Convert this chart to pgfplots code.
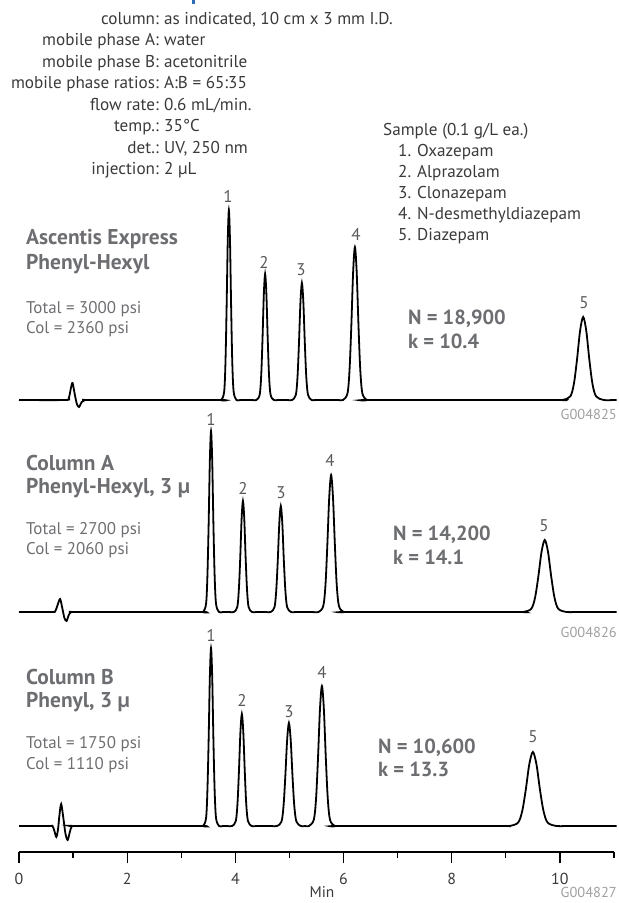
\documentclass[border=0pt]{standalone}
\usepackage{pgfplots}
\usepackage{pgfplotstable}
\pgfplotsset{compat=1.18}
\usepackage{fontspec}
\setmainfont{PT Sans}

\definecolor{txt}{HTML}{3A3A3A}
\definecolor{lab}{HTML}{6D6E71}
\definecolor{gcode}{HTML}{A0A0A0}
\definecolor{pk}{HTML}{58595B}
\definecolor{ttl}{HTML}{2E6DB4}

% chromatograms: t in min, s = signal above baseline
\pgfplotstableread{
t s
0 0
0.85 0
0.92 2
0.96 12
0.99 17
1.03 6
1.07 -4
1.11 -7
1.16 -2
1.22 0
1.35 0
3.67 0
3.74 0
3.793 8.4
3.817 37.6
3.838 92.5
3.859 158.7
3.88 190
3.901 158.7
3.922 92.5
3.943 37.6
3.968 8.4
4.02 0
4.09 0
4.31 0
4.39 0
4.45 5.5
4.478 24.9
4.502 61.4
4.526 105.2
4.55 126
4.574 105.2
4.598 61.4
4.622 24.9
4.65 5.5
4.71 0
4.79 0
4.96 0
5.05 0
5.118 5.1
5.149 23.2
5.176 57.0
5.203 97.7
5.23 117
5.257 97.7
5.284 57.0
5.311 23.2
5.343 5.1
5.41 0
5.50 0
5.88 0
5.99 0
6.073 6.7
6.111 30.3
6.144 74.5
6.177 127.8
6.21 153
6.243 127.8
6.276 74.5
6.309 30.3
6.348 6.7
6.43 0
6.54 0
9.86 0
10.05 0
10.193 3.7
10.259 16.4
10.316 40.4
10.373 69.3
10.43 83
10.487 69.3
10.544 40.4
10.601 16.4
10.668 3.7
10.81 0
11.0 0
11.05 0
}\traceTop

\pgfplotstableread{
t s
0 0
0.60 0
0.67 1
0.72 8
0.76 13
0.80 4
0.84 -6
0.88 -9
0.92 -3
0.97 0
1.10 0
3.328 0
3.402 0
3.458 8.0
3.483 35.8
3.506 88.1
3.528 151.1
3.55 181
3.572 151.1
3.594 88.1
3.617 35.8
3.643 8.0
3.698 0
3.772 0
3.888 0
3.972 0
4.035 4.9
4.064 22.0
4.090 54.1
4.115 92.7
4.14 111
4.165 92.7
4.190 54.1
4.216 22.0
4.245 4.9
4.308 0
4.392 0
4.558 0
4.652 0
4.723 4.7
4.755 21.0
4.784 51.6
4.812 88.5
4.84 106
4.868 88.5
4.896 51.6
4.925 21.0
4.958 4.7
5.028 0
5.122 0
5.422 0
5.538 0
5.625 6.0
5.666 27.1
5.700 66.7
5.735 114.4
5.77 137
5.805 114.4
5.840 66.7
5.874 27.1
5.915 6.0
6.002 0
6.118 0
9.12 0
9.32 0
9.47 3.2
9.54 14.3
9.60 35.1
9.66 60.1
9.72 72
9.78 60.1
9.84 35.1
9.90 14.3
9.97 3.2
10.12 0
10.32 0
11.05 0
}\traceMid

\pgfplotstableread{
t s
0 0
0.55 0
0.62 0
0.66 -6
0.69 -11
0.72 -4
0.75 12
0.78 22
0.82 8
0.86 -8
0.90 -14
0.94 -6
0.98 0
1.08 0
3.328 0
3.402 0
3.458 7.8
3.483 35.2
3.506 86.7
3.528 148.6
3.55 178
3.572 148.6
3.594 86.7
3.617 35.2
3.643 7.8
3.698 0
3.772 0
3.85 0
3.94 0
4.008 4.9
4.039 22.2
4.066 54.5
4.093 93.5
4.12 112
4.147 93.5
4.174 54.5
4.201 22.2
4.233 4.9
4.30 0
4.39 0
4.66 0
4.77 0
4.853 4.5
4.891 20.4
4.924 50.2
4.957 86.0
4.99 103
5.023 86.0
5.056 50.2
5.089 20.4
5.128 4.5
5.21 0
5.29 0
5.36 0
5.45 6.2
5.492 27.7
5.528 68.2
5.564 116.9
5.60 140
5.636 116.9
5.672 68.2
5.708 27.7
5.75 6.2
5.84 0
5.96 0
8.84 0
9.06 0
9.225 3.3
9.302 14.7
9.368 36.0
9.434 61.8
9.50 74
9.566 61.8
9.632 36.0
9.698 14.7
9.775 3.3
9.94 0
10.16 0
11.05 0
}\traceBot

\begin{document}
\begin{tikzpicture}
\begin{axis}[
    scale only axis,
    width=595bp, height=852bp,
    xmin=0, xmax=11, ymin=51, ymax=903,
    axis x line=bottom, axis y line=none,
    x axis line style={-, line width=1.4bp},
    xtick={0,2,...,10},
    minor xtick={1,3,...,11},
    tick align=outside,
    major tick length=11bp, minor tick length=6bp,
    tick style={black, line width=1.2bp},
    xticklabel style={font=\fontsize{16}{16}\selectfont, text=txt, yshift=-7bp},
    /pgf/number format/assume math mode=true,
    clip=false,
]
\addplot[black, line width=1.8bp, smooth, tension=0.5] table[x=t, y expr=\thisrow{s}+503] {\traceTop};
\addplot[black, line width=1.8bp, smooth, tension=0.5] table[x=t, y expr=\thisrow{s}+291] {\traceMid};
\addplot[black, line width=1.8bp, smooth, tension=0.5] table[x=t, y expr=\thisrow{s}+77] {\traceBot};
\end{axis}

% text, placed in reference pixel coordinates
\begin{scope}[x=1bp, y=-1bp, shift={(-19bp,852bp)},
    every node/.style={inner sep=0pt},
    par/.style={font=\fontsize{17.2}{18}\selectfont, text=txt},
    big/.style={font=\fontsize{21.5}{24}\selectfont\bfseries, text=lab},
    nk/.style={font=\fontsize{20.5}{24}\selectfont\bfseries, text=lab, anchor=base west},
    psi/.style={font=\fontsize{17}{20}\selectfont, text=lab, anchor=base west},
    pkl/.style={font=\fontsize{17}{17}\selectfont, text=pk},
    gc/.style={font=\fontsize{14.5}{14.5}\selectfont, text=gcode, anchor=base east}]
\fill[ttl] (192,0) rectangle (195,4);
% conditions
\foreach \l/\v/\y in {column:/{as indicated, 10 cm x 3 mm I.D.}/24.5,
    mobile phase A:/water/46, mobile phase B:/acetonitrile/67.5,
    mobile phase ratios:/{A:B = 65:35}/89, flow rate:/{0.6 mL/min.}/110.5,
    temp.:/35°C/132, det.:/{UV, 250 nm}/153.5, injection:/{2 µL}/175}{
  \node[par, anchor=base east] at (159,\y) {\l};
  \node[par, anchor=base west] at (164,\y) {\v};
}
\node[par, anchor=base west] at (383,136) {Sample (0.1 g/L ea.)};
\foreach \n/\c/\y in {1/Oxazepam/157, 2/Alprazolam/178, 3/Clonazepam/199,
    4/N-desmethyldiazepam/220, 5/Diazepam/241}{
  \node[par, anchor=base west] at (398,\y) {\n.};
  \node[par, anchor=base west] at (417,\y) {\c};
}
% column names
\node[big, anchor=base west] at (26,244.5) {Ascentis Express};
\node[big, anchor=base west] at (26,269.5) {Phenyl-Hexyl};
\node[psi] at (26,314) {Total = 3000 psi};
\node[psi] at (26,334) {Col = 2360 psi};
\node[big, anchor=base west] at (26,470.5) {Column A};
\node[big, anchor=base west] at (26,493.5) {Phenyl-Hexyl, 3 µ};
\node[psi] at (26,535) {Total = 2700 psi};
\node[psi] at (26,555) {Col = 2060 psi};
\node[big, anchor=base west] at (26,684.5) {Column B};
\node[big, anchor=base west] at (26,707.5) {Phenyl, 3 µ};
\node[psi] at (26,749) {Total = 1750 psi};
\node[psi] at (26,770) {Col = 1110 psi};
% plate counts
\node[nk] at (408,325) {N = 18,900};
\node[nk] at (408,349) {k = 10.4};
\node[nk] at (393,541) {N = 14,200};
\node[nk] at (393,565) {k = 14.1};
\node[nk] at (378,754) {N = 10,600};
\node[nk] at (378,777) {k = 13.3};
% peak numbers
\foreach \x/\y/\n in {228/196/1, 264/262/2, 301/270/3, 356/234/4, 584/303/5,
    211/419/1, 243/488/2, 281/493/3, 330/460/4, 544/526/5,
    211/635/1, 242/700/2, 289/712/3, 322/672/4, 533/737/5}{
  \node[pkl] at (\x,\y) {\n};
}
\node[gc] at (617,419.5) {G004825};
\node[gc] at (617,637.5) {G004826};
\node[gc] at (617,898) {G004827};
\node[par, anchor=base, font=\fontsize{15.5}{15.5}\selectfont] at (322,898) {Min};
\pgfresetboundingbox
\path (0,0) rectangle (619,903);
\end{scope}
\end{tikzpicture}
\end{document}
